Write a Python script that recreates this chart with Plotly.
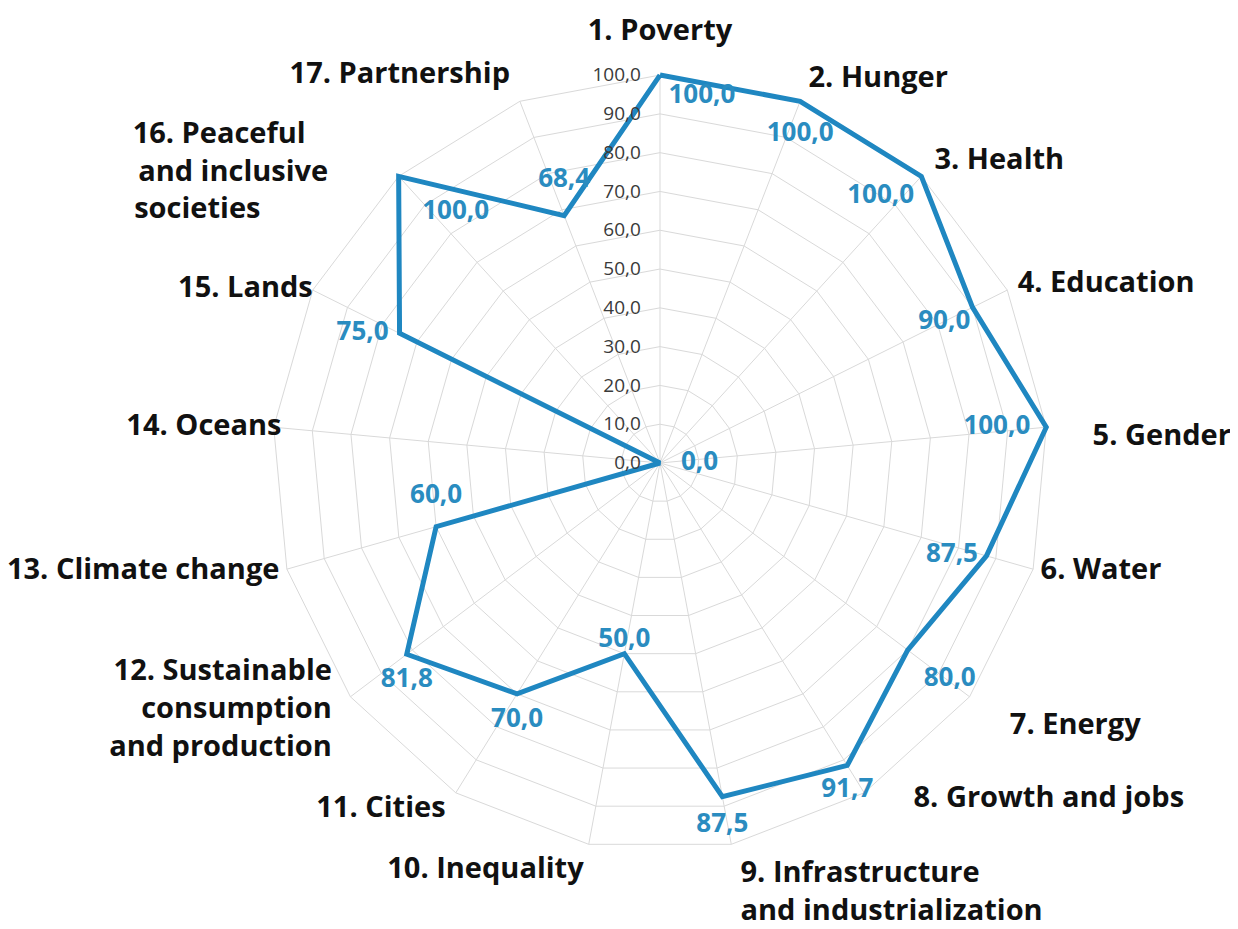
import plotly.graph_objects as go

# ---- data ----
categories = ["1. Poverty", "2. Hunger", "3. Health", "4. Education", "5. Gender",
              "6. Water", "7. Energy", "8. Growth and jobs",
              "9. Infrastructure and industrialization", "10. Inequality", "11. Cities",
              "12. Sustainable consumption and production", "13. Climate change",
              "14. Oceans", "15. Lands", "16. Peaceful and inclusive societies",
              "17. Partnership"]
values = [100.0, 100.0, 100.0, 90.0, 100.0, 87.5, 80.0, 91.7, 87.5, 50.0, 70.0,
          81.8, 60.0, 0.0, 75.0, 100.0, 68.4]
radial_ticks = [0, 10, 20, 30, 40, 50, 60, 70, 80, 90, 100]
axis_max = 100

# displayed category label text (line breaks as in the reference)
NB = "\u00a0"
label_text = ["1. Poverty", "2. Hunger", "3. Health", "4. Education", "5. Gender",
              "6. Water", "7. Energy", NB * 6 + "8. Growth and jobs",
              "9. Infrastructure<br>and industrialization", "10. Inequality", "11. Cities",
              "12. Sustainable<br>consumption<br>and production", "13. Climate change",
              "14. Oceans", "15. Lands",
              "16. Peaceful" + NB * 12 + "<br>and inclusive" + NB * 9 + "<br>societies" + NB * 18,
              "17. Partnership"]

# ---- styling (positions of text relative to the axes) ----
label_r = [111, 106, 105, 103, 112, 102, 113, 102, 113, 107, 105, 106, 102, 98, 100, 101, 107]
label_pos = ["middle center", "middle right", "middle right", "middle right", "bottom right",
             "middle right", "middle right", "middle right", "middle right", "middle left",
             "middle left", "middle left", "middle left", "middle left", "middle left",
             "middle left", "middle left"]
value_pos = ["bottom right", "bottom center", "bottom left", "bottom left", "middle left",
             "middle left", "bottom right", "bottom center", "bottom center", "top center",
             "bottom center", "bottom center", "top center", "middle right", "middle left",
             "bottom right", "top center"]
value_offset = [12, 30, 10, 2, 24, 12, 24, 18, 24, 0, 20, 20, 26, 32, 16, 36, 33]

LINE_COLOR = "#1f87c1"
VALUE_COLOR = "#2a8cc0"
GRID = "#d9d9d9"
FONT = "Open Sans"
DOMAIN = dict(x=[0.16423, 0.89593], y=[0.01737, 0.99457])
R_RANGE = [0, 116]

fig = go.Figure()

# spokes (angular grid lines from centre to the outer ring)
spoke_r, spoke_t = [], []
for c in categories:
    spoke_r += [0, axis_max, None]
    spoke_t += [c, c, None]
fig.add_trace(go.Scatterpolar(
    r=spoke_r, theta=spoke_t, mode="lines",
    line=dict(color=GRID, width=1), connectgaps=False,
    hoverinfo="skip", showlegend=False, subplot="polar",
))

# main polygon line (closed)
fig.add_trace(go.Scatterpolar(
    r=values + [values[0]],
    theta=categories + [categories[0]],
    mode="lines",
    line=dict(color=LINE_COLOR, width=5),
    hoverinfo="skip",
    showlegend=False,
    subplot="polar",
))

# value labels (overlaid invisible polar subplot with identical scales)
fig.add_trace(go.Scatterpolar(
    r=values,
    theta=categories,
    mode="markers+text",
    marker=dict(size=value_offset, color="rgba(0,0,0,0)", opacity=0),
    text=[f"{v:.1f}".replace(".", ",") for v in values],
    textposition=value_pos,
    textfont=dict(family=FONT, size=26, color=VALUE_COLOR, weight="bold"),
    cliponaxis=False,
    hoverinfo="skip",
    showlegend=False,
    subplot="polar2",
))

# category labels (same overlaid subplot so they can sit outside the rings)
fig.add_trace(go.Scatterpolar(
    r=label_r,
    theta=categories,
    mode="text",
    text=label_text,
    textposition=label_pos,
    textfont=dict(family=FONT, size=29, color="#111111", weight="bold"),
    cliponaxis=False,
    hoverinfo="skip",
    showlegend=False,
    subplot="polar2",
))

angular_common = dict(
    type="category",
    categoryorder="array",
    categoryarray=categories,
    rotation=90,
    direction="clockwise",
    showticklabels=False,
    showgrid=False,
    showline=False,
    ticks="",
)

fig.update_layout(
    width=1230,
    height=921,
    margin=dict(l=0, r=0, t=0, b=0),
    paper_bgcolor="white",
    plot_bgcolor="white",
    separators=",.",
    showlegend=False,
    polar=dict(
        domain=DOMAIN,
        bgcolor="white",
        gridshape="linear",
        radialaxis=dict(
            range=R_RANGE,
            tickvals=radial_ticks,
            tickformat=".1f",
            angle=90,
            tickangle=90,
            side="counterclockwise",
            showline=False,
            ticks="outside",
            ticklen=12,
            tickcolor="rgba(0,0,0,0)",
            gridcolor=GRID,
            gridwidth=1,
            tickfont=dict(family=FONT, size=19, color="#3a3a3a"),
        ),
        angularaxis=angular_common,
    ),
    polar2=dict(
        domain=DOMAIN,
        bgcolor="rgba(0,0,0,0)",
        gridshape="circular",
        radialaxis=dict(range=R_RANGE, visible=False, showgrid=False,
                        showticklabels=False, showline=False, ticks=""),
        angularaxis=dict(angular_common, visible=False),
    ),
)

fig.write_html("out.html")
